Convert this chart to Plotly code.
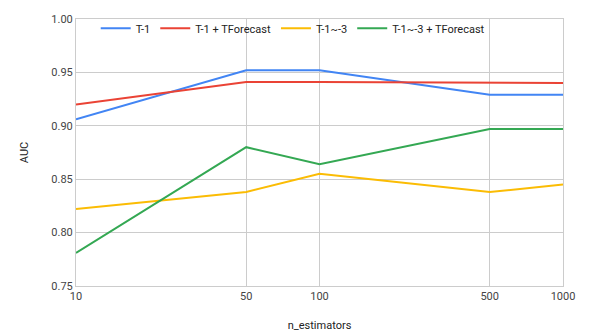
import plotly.graph_objects as go

n_estimators = [10, 50, 100, 500, 1000]
series_names = ["T-1", "T-1 + TForecast", "T-1~-3", "T-1~-3 + TForecast"]
t1 = [0.906, 0.952, 0.952, 0.929, 0.929]
t1_tf = [0.920, 0.941, 0.941, 0.940, 0.940]
t13 = [0.822, 0.838, 0.855, 0.838, 0.845]
t13_tf = [0.781, 0.880, 0.864, 0.897, 0.897]
colors = ["#4285F4", "#EA4335", "#FBBC04", "#34A853"]
y_ticks = [0.75, 0.80, 0.85, 0.90, 0.95, 1.00]

fig = go.Figure()
for name, vals, c in zip(series_names, [t1, t1_tf, t13, t13_tf], colors):
    fig.add_trace(go.Scatter(x=n_estimators, y=vals, mode="lines", name=name,
                             line=dict(color=c, width=2)))

# page body has an 8px margin, so the figure is sized/offset to compensate
fig.update_layout(
    width=581, height=324,
    margin=dict(l=68, r=26, t=6, b=46),
    plot_bgcolor="white", paper_bgcolor="white",
    font=dict(family="Roboto, Arial, sans-serif", size=11, color="#444"),
    legend=dict(orientation="h", x=0.445, xanchor="center", y=0.965, yanchor="middle",
                font=dict(size=11, color="#222"), bgcolor="rgba(0,0,0,0)",
                itemwidth=30, tracegroupgap=0),
    xaxis=dict(type="log", range=[1, 3], tickvals=n_estimators,
               ticktext=[str(v) for v in n_estimators], automargin=False,
               showgrid=True, gridcolor="#cccccc", gridwidth=1,
               showline=True, linecolor="#cccccc", mirror=True, zeroline=False,
               title=dict(text="n_estimators", font=dict(size=11, color="#222"), standoff=22),
               ticks="", tickfont=dict(size=11, color="#444")),
    yaxis=dict(range=[0.75, 1.0], tickvals=y_ticks,
               ticktext=[f"{v:.2f}" for v in y_ticks], automargin=False,
               showgrid=True, gridcolor="#cccccc", gridwidth=1,
               showline=True, linecolor="#cccccc", mirror=True, zeroline=False,
               title=dict(text="AUC", font=dict(size=11, color="#222"), standoff=20),
               ticks="", tickfont=dict(size=11, color="#444")),
)

fig.write_html("out.html")
